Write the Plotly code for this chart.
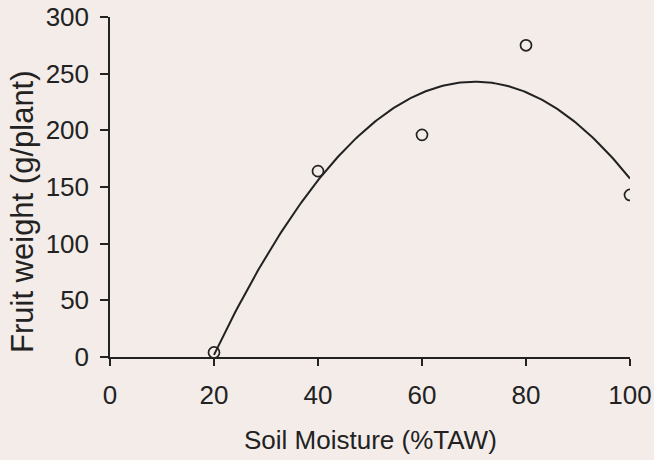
import numpy as np
import plotly.graph_objects as go

# Data
soil_moisture = [20, 40, 60, 80, 100]          # %TAW
fruit_weight = [4, 164, 196, 275, 143]         # g/plant

x_ticks = [0, 20, 40, 60, 80, 100]
y_ticks = [0, 50, 100, 150, 200, 250, 300]

x_title = "Soil Moisture (%TAW)"
y_title = "Fruit weight (g/plant)"

# Second-order polynomial trendline (least squares), as in the original
coef = np.polyfit(soil_moisture, fruit_weight, 2)
xf = np.linspace(min(soil_moisture), max(soil_moisture), 200)
yf = np.polyval(coef, xf)

font_family = "Liberation Sans, Arial, sans-serif"
ink = "#222222"
bg = "#f3ece9"

fig = go.Figure()
fig.add_trace(go.Scatter(x=xf, y=yf, mode="lines",
                         line=dict(color=ink, width=2), hoverinfo="skip",
                         showlegend=False))
fig.add_trace(go.Scatter(x=soil_moisture, y=fruit_weight, mode="markers",
                         marker=dict(symbol="circle-open", size=11,
                                     color=ink, line=dict(width=1.7, color=ink)),
                         showlegend=False))

fig.update_layout(
    width=654, height=460,
    margin=dict(l=110, r=24, t=17, b=103),
    paper_bgcolor=bg,
    plot_bgcolor=bg,
    font=dict(family=font_family, size=26, color=ink),
    xaxis=dict(range=[0, 100], tickvals=x_ticks, showgrid=False, zeroline=False,
               automargin=False,
               showline=True, linecolor=ink, linewidth=1.5,
               ticks="outside", ticklen=7, tickcolor=ink, tickwidth=1.5,
               ticklabelstandoff=7),
    yaxis=dict(range=[0, 300], tickvals=y_ticks, showgrid=False, zeroline=False,
               automargin=False,
               showline=True, linecolor=ink, linewidth=1.5,
               ticks="outside", ticklen=8, tickcolor=ink, tickwidth=1.5,
               ticklabelstandoff=6),
    annotations=[
        dict(text=x_title, xref="paper", yref="paper", x=0.5, y=0,
             xanchor="center", yanchor="middle", yshift=-83, showarrow=False,
             font=dict(size=26, family=font_family, color=ink)),
        dict(text=y_title, xref="paper", yref="paper", x=0, y=0.5,
             xanchor="center", yanchor="middle", xshift=-88, yshift=-25,
             textangle=-90, showarrow=False,
             font=dict(size=31, family=font_family, color=ink)),
    ],
)

fig.write_html("out.html")
